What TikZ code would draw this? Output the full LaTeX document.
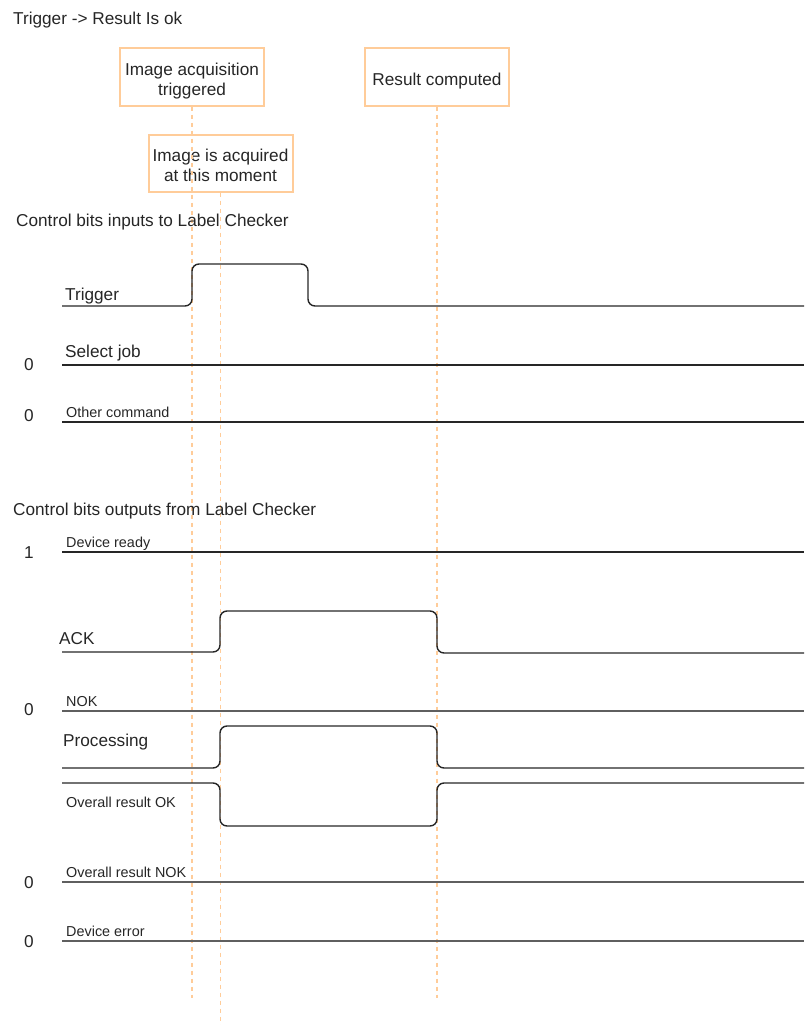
\documentclass[tikz,border=0pt]{standalone}
\usepackage{fontspec}
\setmainfont{Liberation Sans}
\usetikzlibrary{positioning}
\definecolor{boxorange}{RGB}{255,204,153}
\definecolor{wiregray}{RGB}{95,95,95}
\newcommand{\lift}[1]{\rule{0pt}{#1}}

\begin{document}
\begin{tikzpicture}[x=1pt, y=-1pt,
    big/.style={anchor=base west, inner sep=0pt, text=black!85, font=\fontsize{17.2}{20}\selectfont},
    small/.style={anchor=base west, inner sep=0pt, text=black!85, font=\fontsize{14.4}{17}\selectfont},
    bit/.style={anchor=base, inner sep=0pt, text=black!85, font=\fontsize{17.2}{20}\selectfont},
    event/.style={draw=boxorange, line width=2pt, minimum width=144pt, minimum height=57pt, inner sep=0pt, align=center,
        text=black!85, font=\fontsize{17.2}{20}\selectfont},
    marker/.style={draw=boxorange, line width=1.2pt, dash pattern=on 4pt off 4pt},
    wave/.style={draw=black!85, line width=1.4pt, rounded corners=7pt},
    flat/.style={draw=black!85, line width=1.4pt},
    dim/.style={draw=wiregray, line width=2pt}]
    \useasboundingbox (0,0) rectangle (804,1025);

    \node[big] (title) at (13,25) {Trigger -> Result Is ok};

    \node[event] (acq) at (192,77) {\lift{20.5pt}Image acquisition\\triggered};
    \node[event] (res) at (437,77) {\lift{21.5pt}Result computed};
    \node[event] (got) at (220.5,163) {\lift{16.5pt}Image is acquired\\at this moment};

    \coordinate (acqend) at (192,998);
    \coordinate (resend) at (437,998);
    \coordinate (gotend) at (220.5,1025);
    \draw[marker] (acq.south) -- (acqend);
    \draw[marker] (res.south) -- (resend);
    \draw[marker] (got.south) -- (gotend);

    \node[big] (inhead) at (16,226) {Control bits inputs to Label Checker};

    \node[big] (trig) at (65,300) {Trigger};
    \draw[wave] (62,306) -- (192,306) -- (192,264) -- (308,264) -- (308,306) -- (804,306);

    \node[big] (sel) at (65,357) {Select job};
    \node[bit] (selbit) at (29,370) {0};
    \draw[flat] (62,365) -- (804,365);

    \node[small] (oth) at (66,417) {Other command};
    \node[bit] (othbit) at (29,421) {0};
    \draw[flat] (62,422) -- (804,422);

    \node[big] (outhead) at (13,515) {Control bits outputs from Label Checker};

    \node[small] (rdy) at (66,547) {Device ready};
    \node[bit] (rdybit) at (29,558) {1};
    \draw[flat] (62,552) -- (804,552);

    \node[big] (ack) at (59,644) {ACK};
    \draw[wave] (62,652) -- (220,652) -- (220,611) -- (437,611) -- (437,653) -- (804,653);

    \node[small] (nok) at (66,706) {NOK};
    \node[bit] (nokbit) at (29,715) {0};
    \draw[dim] (62,711) -- (804,711);

    \node[big] (proc) at (63,746) {Processing};
    \draw[wave] (62,768) -- (220,768) -- (220,726) -- (437,726) -- (437,768) -- (804,768);

    \node[small] (ok) at (66,807) {Overall result OK};
    \draw[wave] (62,783) -- (220,783) -- (220,826) -- (437,826) -- (437,783) -- (804,783);

    \node[small] (nnok) at (66,877) {Overall result NOK};
    \node[bit] (nnokbit) at (29,888) {0};
    \draw[dim] (62,882) -- (804,882);

    \node[small] (err) at (66,936) {Device error};
    \node[bit] (errbit) at (29,947) {0};
    \draw[dim] (62,941) -- (804,941);
\end{tikzpicture}
\end{document}
